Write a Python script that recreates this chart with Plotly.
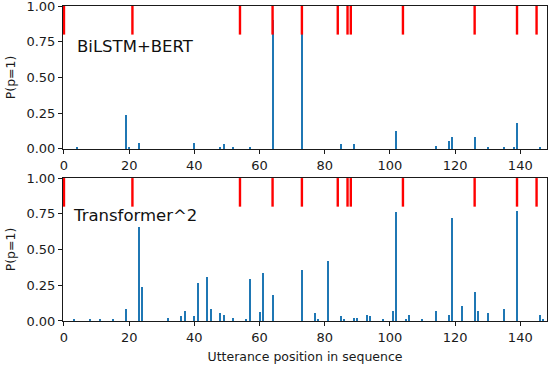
import plotly.graph_objects as go
from plotly.subplots import make_subplots

# ground-truth positions (red markers, drawn from 0.8 to 1.0)
true_positions = [0, 21, 54, 64, 73, 84, 87, 88, 104, 126, 139, 145]

# BiLSTM+BERT predicted P(p=1)
bilstm_x = [4, 19, 20, 23, 40, 48, 49, 52, 57, 64, 73, 85, 89, 102, 114, 118, 119, 126, 130, 135, 138, 139, 146]
bilstm_p = [0.014, 0.237, 0.01, 0.042, 0.04, 0.015, 0.035, 0.015, 0.015, 0.9, 0.9, 0.035, 0.035, 0.126,
            0.02, 0.056, 0.084, 0.084, 0.014, 0.014, 0.014, 0.181, 0.014]

# Transformer^2 predicted P(p=1)
trans_x = [3, 8, 11, 15, 19, 23, 24, 32, 36, 37, 40, 41, 44, 45, 48, 49, 52, 56, 57, 60, 61, 64, 73,
           77, 78, 81, 85, 86, 89, 90, 93, 94, 98, 101, 102, 105, 106, 110, 114, 118, 119, 122, 126,
           127, 130, 135, 139, 146, 147]
trans_p = [0.016, 0.016, 0.016, 0.016, 0.086, 0.66, 0.24, 0.023, 0.037, 0.072, 0.037, 0.268, 0.31,
           0.086, 0.058, 0.044, 0.023, 0.016, 0.296, 0.065, 0.338, 0.184, 0.359, 0.058, 0.016, 0.42,
           0.037, 0.016, 0.023, 0.023, 0.044, 0.037, 0.016, 0.072, 0.765, 0.016, 0.044, 0.016, 0.072,
           0.044, 0.723, 0.107, 0.205, 0.072, 0.058, 0.086, 0.772, 0.044, 0.016]

y_ticks = [0.0, 0.25, 0.5, 0.75, 1.0]
x_ticks = [0, 20, 40, 60, 80, 100, 120, 140]

BLUE = "#1f77b4"
RED = "#ff0000"
INK = "#1a1a1a"
FONT = "DejaVu Sans"

fig = make_subplots(rows=2, cols=1, vertical_spacing=0.0925)

red_x, red_y = [], []
for p in true_positions:
    red_x += [p, p, None]
    red_y += [0.8, 1.0, None]

for row, (xs, ps, label, ly) in enumerate(
    [(bilstm_x, bilstm_p, "BiLSTM+BERT", 0.72), (trans_x, trans_p, "Transformer^2", 0.74)], start=1
):
    fig.add_trace(go.Bar(x=xs, y=ps, width=0.32, marker_color=BLUE, marker_line_width=0), row=row, col=1)
    fig.add_trace(go.Scatter(x=red_x, y=red_y, mode="lines", line=dict(color=RED, width=2.4)), row=row, col=1)
    fig.add_annotation(
        text=label, x=2.2 if row == 2 else 3.4, y=ly, xref=f"x{row if row > 1 else ''}",
        yref=f"y{row if row > 1 else ''}", xanchor="left", yanchor="middle", showarrow=False,
        font=dict(family=FONT, size=16.5, color="#111"),
    )
    fig.update_xaxes(
        range=[-0.3, 148.2], tickvals=x_ticks, ticks="outside", ticklen=4, tickcolor=INK,
        showline=True, linecolor=INK, linewidth=1, mirror=True, showgrid=False, zeroline=False,
        tickfont=dict(family=FONT, size=13, color=INK), automargin=False,
        ticklabeloverflow="allow", row=row, col=1,
    )
    fig.update_yaxes(
        range=[0, 1], tickvals=y_ticks, tickformat=".2f", ticks="outside", ticklen=4, tickcolor=INK,
        showline=True, linecolor=INK, linewidth=1, mirror=True, showgrid=False, zeroline=False,
        tickfont=dict(family=FONT, size=13, color=INK), automargin=False, ticklabeloverflow="allow",
        title=dict(text="P(p=1)", font=dict(family=FONT, size=12.5, color=INK), standoff=8),
        row=row, col=1,
    )

fig.update_xaxes(
    title=dict(text="Utterance position in sequence", font=dict(family=FONT, size=12.5, color=INK), standoff=8),
    row=2, col=1,
)

fig.update_layout(
    width=548, height=366,
    margin=dict(l=63, r=1, t=6, b=45),
    paper_bgcolor="white", plot_bgcolor="white",
    showlegend=False, bargap=0,
)

# the page body has a default 8px margin; drop it so the figure fills the window
fig.write_html(
    "out.html",
    config={"displayModeBar": False},
    post_script="document.body.style.margin='0';",
)
